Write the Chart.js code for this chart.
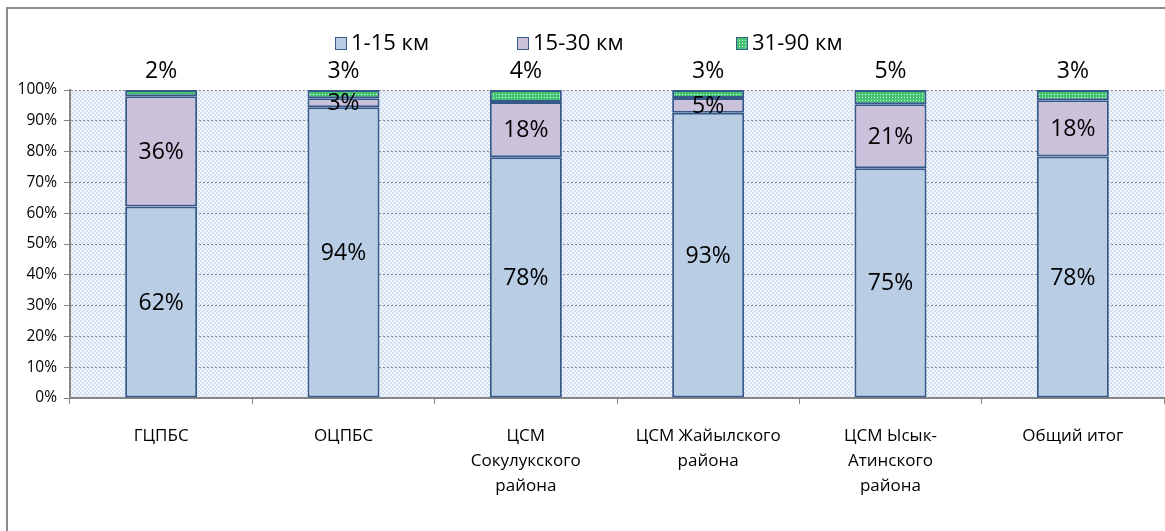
<!DOCTYPE html>
<html>
<head>
<meta charset="utf-8">
<script src="https://cdn.jsdelivr.net/npm/chart.js@4/dist/chart.umd.min.js"></script>
<style>
  html, body { margin: 0; padding: 0; background: #fff; overflow: hidden; }
  #frame { position: absolute; left: 6px; top: 7px; width: 1200px; height: 600px; border: 2px solid #8c8c8c; box-sizing: border-box; }
  #wrap { position: absolute; left: 0; top: 0; width: 1165px; height: 531px; }
</style>
</head>
<body>
<div id="frame"></div>
<div id="wrap"><canvas id="c" width="1165" height="531"></canvas></div>
<script>
const categories = [
  'ГЦПБС',
  'ОЦПБС',
  ['ЦСМ', 'Сокулукского', 'района'],
  ['ЦСМ Жайылского', 'района'],
  ['ЦСМ Ысык-', 'Атинского', 'района'],
  'Общий итог'
];
const seriesNames = ['1-15 км', '15-30 км', '31-90 км'];
const km1_15  = [62.2, 94.4, 78.2, 92.6, 74.6, 78.4];
const km15_30 = [35.8, 2.9, 17.9, 4.8, 20.8, 18.3];
const km31_90 = [2.0, 2.7, 3.9, 2.6, 4.6, 3.3];
const yTicks = [0, 10, 20, 30, 40, 50, 60, 70, 80, 90, 100];

const FONT = '"Open Sans", "Noto Sans", sans-serif';

function makePattern(size, bg, fg, dots) {
  const p = document.createElement('canvas');
  p.width = size; p.height = size;
  const g = p.getContext('2d');
  g.fillStyle = bg; g.fillRect(0, 0, size, size);
  g.fillStyle = fg;
  dots.forEach(d => g.fillRect(d[0], d[1], 1, 1));
  return document.getElementById('c').getContext('2d').createPattern(p, 'repeat');
}
const plotBg = makePattern(4, '#f4f7fc', '#d3e0f1', [[0,0],[1,0],[0,1],[1,1],[2,2],[3,2],[2,3],[3,3]]);
const greenFill = makePattern(3, '#44c472', '#e8fbee', [[1,1]]);

const bgPlugin = {
  id: 'bg',
  beforeDraw(chart) {
    const {ctx, chartArea: a} = chart;
    ctx.save();
    ctx.fillStyle = plotBg;
    ctx.fillRect(a.left, a.top, a.right - a.left, a.bottom - a.top);
    ctx.restore();
  }
};

const legendPlugin = {
  id: 'customLegend',
  afterDraw(chart) {
    const {ctx} = chart;
    const xs = [335, 517, 736];
    const y = 43;
    ctx.save();
    ctx.font = '22px ' + FONT;
    ctx.textBaseline = 'middle';
    chart.data.datasets.forEach((ds, i) => {
      ctx.fillStyle = ds.backgroundColor;
      ctx.fillRect(xs[i], y - 6, 12, 13);
      ctx.strokeStyle = '#385d8a';
      ctx.lineWidth = 1;
      ctx.strokeRect(xs[i] + 0.5, y - 5.5, 11, 12);
      ctx.fillStyle = '#000';
      ctx.fillText(ds.label, xs[i] + 16, y + 1);
    });
    ctx.restore();
  }
};

const labelPlugin = {
  id: 'valueLabels',
  afterDatasetsDraw(chart) {
    const {ctx} = chart;
    ctx.save();
    ctx.font = '23px ' + FONT;
    ctx.fillStyle = '#000';
    ctx.textAlign = 'center';
    ctx.textBaseline = 'middle';
    chart.data.datasets.forEach((ds, di) => {
      const meta = chart.getDatasetMeta(di);
      meta.data.forEach((bar, i) => {
        const v = ds.data[i];
        const txt = Math.round(v) + '%';
        if (di < 2) {
          ctx.fillText(txt, bar.x, (bar.y + bar.base) / 2 + 1);
        } else {
          ctx.fillText(txt, bar.x, bar.y - 19);
        }
      });
    });
    ctx.restore();
  }
};

const datasets = [
  { label: seriesNames[0], data: km1_15, backgroundColor: '#b9cde5' },
  { label: seriesNames[1], data: km15_30, backgroundColor: '#ccc1da' },
  { label: seriesNames[2], data: km31_90, backgroundColor: greenFill }
].map(d => Object.assign(d, {
  borderColor: '#37598a', borderWidth: 2, borderSkipped: false,
  barPercentage: 0.395, categoryPercentage: 1.0
}));

new Chart(document.getElementById('c'), {
  type: 'bar',
  data: { labels: categories, datasets },
  plugins: [bgPlugin, labelPlugin, legendPlugin],
  options: {
    responsive: false,
    animation: false,
    layout: { padding: { left: 0, right: 1, top: 90, bottom: 0 } },
    plugins: { legend: { display: false }, tooltip: { enabled: false } },
    scales: {
      x: {
        stacked: true,
        offset: true,
        grid: { display: true, drawOnChartArea: false, drawTicks: true, tickLength: 6, color: '#868686', offset: true },
        border: { display: true, color: '#868686', width: 2 },
        ticks: { color: '#000', font: { family: FONT, size: 17, lineHeight: '25px' }, padding: 20, maxRotation: 0, autoSkip: false },
        afterFit(s) { s.height = 133; }
      },
      y: {
        stacked: true,
        min: 0, max: 100,
        afterBuildTicks(s) { s.ticks = yTicks.map(v => ({ value: v })); },
        grid: { color: '#8a8a8a', lineWidth: 1, tickLength: 6, tickColor: '#868686', tickBorderDash: [] },
        border: { display: true, color: '#868686', width: 2, dash: [2, 2] },
        ticks: { color: '#000', font: { family: FONT, size: 15.5 }, padding: 7, callback: v => v + '%' },
        afterFit(s) { s.width = 70; }
      }
    }
  }
});
</script>
</body>
</html>
